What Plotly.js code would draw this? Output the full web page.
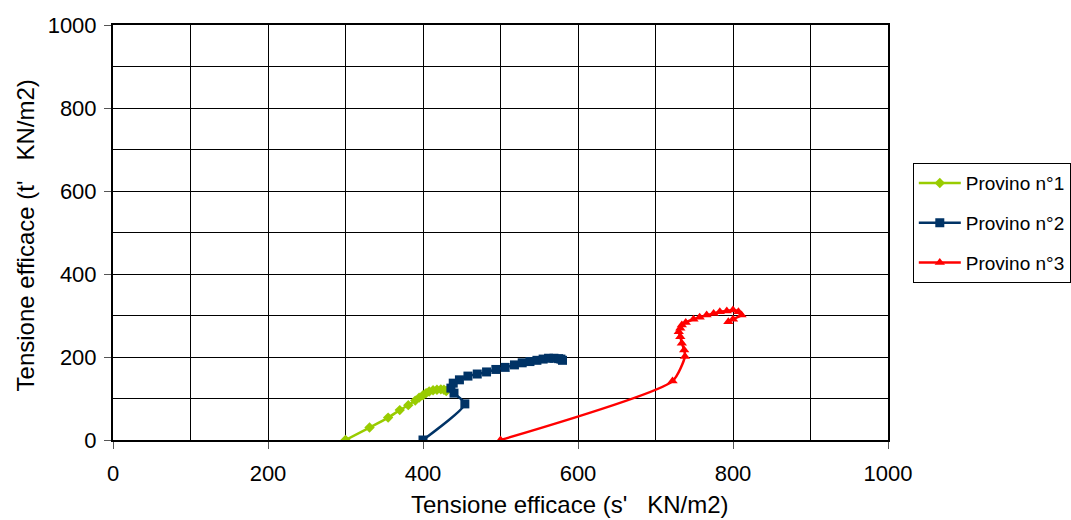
<!DOCTYPE html>
<html>
<head>
<meta charset="utf-8">
<script src="https://cdn.plot.ly/plotly-3.0.1.min.js"></script>
<style>html,body{margin:0;padding:0;background:#fff;}#chart{width:1071px;height:520px;}</style>
</head>
<body>
<div id="chart"></div>
<script>
// Provino n°1
const p1_s = [300, 331, 355, 370, 381, 390, 395, 400, 404, 408, 413, 418, 423, 427, 430];
const p1_t = [0, 30, 54, 72, 84, 95, 102, 108, 113, 117, 120, 121, 122, 121, 118];
// Provino n°2
const p2_s = [400, 454, 440, 436, 439, 447, 458, 470, 482, 494, 506, 518, 528, 538, 547, 555, 562, 569, 575, 578, 580];
const p2_t = [0, 87, 113, 125, 137, 145, 154, 159, 164, 170, 175, 181, 186, 189, 192, 195, 197, 197, 196, 195, 192];
// Provino n°3
const p3_s = [500, 722, 738, 737, 734, 732, 730, 732, 734, 739, 749, 757, 766, 775, 783, 792, 800, 807, 811, 800, 794];
const p3_t = [0, 142, 201, 217, 233, 249, 261, 269, 277, 283, 291, 296, 301, 305, 309, 311, 313, 309, 301, 291, 285];

const names = ['Provino n°1', 'Provino n°2', 'Provino n°3'];
const tickVals = [0, 200, 400, 600, 800, 1000];
const xTitle = "Tensione efficace (s'   KN/m2)";
const yTitle = "Tensione efficace (t'   KN/m2)";

const font = 'Liberation Sans, Arial, sans-serif';

const traces = [
  {x: p1_s, y: p1_t, name: names[0], legendgroup: 'a', mode: 'lines+markers',
   line: {color: '#99CC00', width: 2.5, shape: 'spline', smoothing: 0.6},
   marker: {symbol: 'diamond', size: 8, color: '#99CC00'}},
  {x: p2_s, y: p2_t, name: names[1], legendgroup: 'b', mode: 'lines+markers',
   line: {color: '#003366', width: 2.5, shape: 'spline', smoothing: 0.6},
   marker: {symbol: 'square', size: 9, color: '#003366'}},
  {x: p3_s, y: p3_t, name: names[2], legendgroup: 'c', mode: 'lines+markers',
   line: {color: '#FF0000', width: 2.5, shape: 'spline', smoothing: 0.6},
   marker: {symbol: 'triangle-up', size: 9, color: '#FF0000'}}
];

const axisCommon = {
  range: [0, 1000],
  tickvals: tickVals,
  ticktext: tickVals.map(String),
  ticks: 'outside', ticklen: 7, tickcolor: '#555', tickwidth: 1,
  showgrid: true, gridcolor: '#000', gridwidth: 1,
  minor: {dtick: 100, showgrid: true, gridcolor: '#000', gridwidth: 1},
  showline: true, linecolor: '#000', linewidth: 2, mirror: true,
  zeroline: false,
  tickfont: {family: font, size: 22, color: '#000'}
};

const layout = {
  width: 1071, height: 520,
  margin: {l: 113, r: 183, t: 25, b: 80, autoexpand: false},
  paper_bgcolor: '#fff', plot_bgcolor: '#fff',
  font: {family: font, color: '#000'},
  xaxis: Object.assign({}, axisCommon, {ticklabelstandoff: 6}),
  yaxis: Object.assign({}, axisCommon, {ticklabelstandoff: 3}),
  annotations: [
    {text: xTitle, xref: 'paper', yref: 'paper', x: 0.5897, y: -0.1928,
     xanchor: 'center', yanchor: 'bottom', showarrow: false,
     font: {family: font, size: 24, color: '#000'}},
    {text: yTitle, xref: 'paper', yref: 'paper', x: -0.1135, y: 0.493,
     xanchor: 'center', yanchor: 'middle', showarrow: false, textangle: -90,
     font: {family: font, size: 24, color: '#000'}}
  ],
  showlegend: true,
  legend: {
    x: 1.032, y: 0.667, xanchor: 'left', yanchor: 'top',
    bordercolor: '#000', borderwidth: 1, bgcolor: '#fff',
    font: {family: font, size: 19, color: '#000'},
    tracegroupgap: 12, itemwidth: 42
  }
};

Plotly.newPlot('chart', traces, layout, {displayModeBar: false, staticPlot: true});
</script>
</body>
</html>
